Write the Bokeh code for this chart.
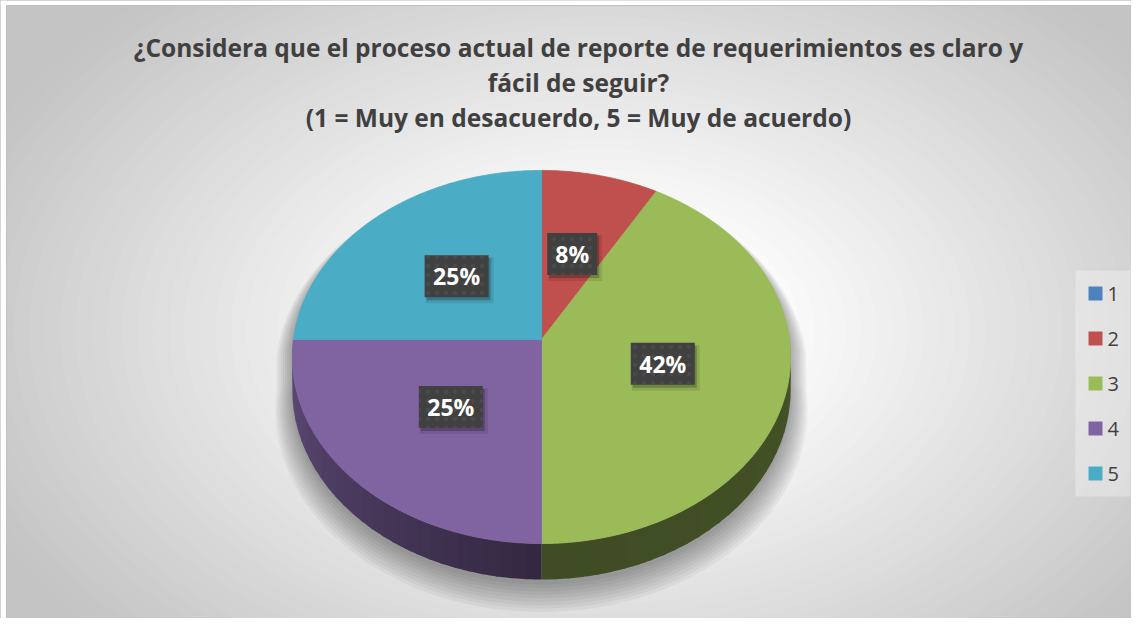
import numpy as np
from bokeh.plotting import figure
from bokeh.models import Range1d
from bokeh.core.properties import value
from bokeh.embed import file_html
from bokeh.resources import INLINE

# ---------------- data ----------------
TITLE_LINES = [
    "¿Considera que el proceso actual de reporte de requerimientos es claro y",
    "fácil de seguir?",
    "(1 = Muy en desacuerdo, 5 = Muy de acuerdo)",
]
CATEGORIES = ["1", "2", "3", "4", "5"]
COUNTS = [0, 1, 5, 3, 3]
COLORS = ["#4F81BD", "#C0504D", "#9BBB59", "#8064A2", "#4BACC6"]

# ---------------- geometry / style ----------------
W, H = 1131, 618
CX, CY = 541.0, 339.0        # pie centre (px)
RX, RY = 248.0, 184.9        # radii of top face
K = 0.0938                   # perspective strength
DEPTH = 32.6                 # pie thickness
FONT = "Open Sans"
TEXT_COLOR = "#404040"

p = figure(width=W, height=H, x_range=Range1d(0, W), y_range=Range1d(H, 0),
           output_backend="svg", toolbar_location=None, min_border=0,
           x_axis_location=None, y_axis_location=None)
p.grid.visible = False
p.outline_line_color = None
p.background_fill_color = "#ffffff"
p.border_fill_color = "#ffffff"

# ---------------- chart area with radial gradient ----------------
AX0, AY0, AX1, AY1 = 6, 5, 1139, 623
p.quad(left=[AX0], right=[AX1], top=[AY0], bottom=[AY1], fill_color="#c6c6c6", line_color=None)
BGX, BGY, BRX, BRY = 600.0, 330.0, 640.0, 420.0
ts = np.linspace(1.45, 0.02, 60)
def bg_level(t):
    if t <= 0.3:
        return 251.0
    return max(196.0, 251.0 - 53.0 * (t - 0.3) / 0.75)
bg_cols = ["#%02x%02x%02x" % ((int(bg_level(t)),) * 3) for t in ts]
p.ellipse(x=[BGX] * len(ts), y=[BGY] * len(ts), width=list(2 * BRX * ts), height=list(2 * BRY * ts),
          fill_color=bg_cols, line_color=None)
# mask outside chart area (top strip, left strip), then border
p.quad(left=[0, 0], right=[W, AX0], top=[0, 0], bottom=[AY0, H],
       fill_color="#ffffff", line_color=None)
p.quad(left=[AX0], right=[AX1 + 2], top=[AY0], bottom=[AY1], fill_color=None,
       line_color="#c0c0c0", line_width=1)

# ---------------- projection ----------------
def proj(theta_deg, r=1.0, drop=0.0):
    th = np.radians(theta_deg)
    u = r * np.sin(th)
    v = -r * np.cos(th)
    s = 1.0 / (1.0 - K * v)
    return CX + RX * u * s, CY + RY * v * s + drop * s

total = float(sum(COUNTS))
fracs = [c / total for c in COUNTS]
starts = np.concatenate([[0.0], np.cumsum(fracs)[:-1]]) * 360.0
ends = np.cumsum(fracs) * 360.0

# ---------------- shadow ----------------
def silhouette(scale=1.0, dx=0.0, dy=0.0):
    a1 = np.linspace(-90, 90, 120)
    xt, yt = proj(a1)
    a2 = np.linspace(90, 270, 120)
    xb, yb = proj(a2, drop=DEPTH)
    xs = np.concatenate([xt, xb])
    ys = np.concatenate([yt, yb])
    xs = CX + (xs - CX) * scale + dx
    ys = CY + (ys - CY) * scale + dy
    return list(xs), list(ys)

sh_xs, sh_ys = [], []
for i in range(9):
    sx, sy = silhouette(scale=1.0 + 0.0085 * i, dy=5 + 1.4 * i)
    sh_xs.append(sx)
    sh_ys.append(sy)
p.patches(sh_xs[::-1], sh_ys[::-1], fill_color="#000000", fill_alpha=0.045, line_color=None)

# ---------------- sides ----------------
def darken(hexc, f):
    hexc = hexc.lstrip("#")
    r, g, b = (int(hexc[i:i + 2], 16) for i in (0, 2, 4))
    return "#%02x%02x%02x" % (int(r * f), int(g * f), int(b * f))

def side_factor(theta):
    if theta <= 180:
        return 0.41 + 0.03 * (180 - theta) / 90.0
    return 0.40 + 0.36 * (theta - 180) / 90.0

side_xs, side_ys, side_cols = [], [], []
for i, (a, b) in enumerate(zip(starts, ends)):
    lo, hi = max(a, 90.0), min(b, 270.0)
    if hi <= lo:
        continue
    nstrip = max(2, int((hi - lo) / 3))
    edges = np.linspace(lo, hi, nstrip + 1)
    for j, (e0, e1) in enumerate(zip(edges[:-1], edges[1:])):
        ang = np.linspace(e0, min(e1 + (0.6 if j < nstrip - 1 else 0), hi), 6)
        xt, yt = proj(ang)
        xb, yb = proj(ang[::-1], drop=DEPTH)
        side_xs.append(list(np.concatenate([xt, xb])))
        side_ys.append(list(np.concatenate([yt, yb])))
        side_cols.append(darken(COLORS[i], side_factor((e0 + e1) / 2)))
p.patches(side_xs, side_ys, fill_color=side_cols, line_color=None)

# ---------------- top faces ----------------
top_xs, top_ys, top_cols = [], [], []
for i, (a, b) in enumerate(zip(starts, ends)):
    if b - a <= 0:
        continue
    ang = np.linspace(a, b, max(8, int((b - a) * 1.5)))
    xt, yt = proj(ang)
    top_xs.append([CX] + list(xt))
    top_ys.append([CY] + list(yt))
    top_cols.append(COLORS[i])
p.patches(top_xs, top_ys, fill_color=top_cols, line_color=top_cols, line_width=0.8)

# ---------------- data labels ----------------
lab_x, lab_y, lab_t, lab_w = [], [], [], []
for i, (a, b) in enumerate(zip(starts, ends)):
    if COUNTS[i] == 0:
        continue
    mx, my = proj((a + b) / 2, r=0.5)
    txt = "%d%%" % round(100 * COUNTS[i] / total)
    lab_x.append(float(mx)); lab_y.append(float(my)); lab_t.append(txt)
    lab_w.append(14 * len(txt) + 22)
p.rect(x=[x + 3 for x in lab_x], y=[y + 4 for y in lab_y], width=[w + 4 for w in lab_w], height=46,
       fill_color="#000000", fill_alpha=0.10, line_color=None)
p.rect(x=[x + 2 for x in lab_x], y=[y + 3 for y in lab_y], width=[w for w in lab_w], height=42,
       fill_color="#000000", fill_alpha=0.22, line_color=None)
p.rect(x=lab_x, y=lab_y, width=lab_w, height=42, fill_color="#404040", line_color=None,
       hatch_pattern="dot", hatch_color="#555555", hatch_scale=9, hatch_weight=0.8, hatch_alpha=0.45)
p.text(x=lab_x, y=lab_y, text=lab_t, text_color="#ffffff", text_font=value(FONT),
       text_font_style="bold", text_font_size="23px", text_align="center", text_baseline="middle")

# ---------------- title ----------------
p.text(x=[578] * 3, y=[47, 82, 117], text=TITLE_LINES, text_color=TEXT_COLOR,
       text_font=value(FONT), text_font_style="bold", text_font_size="24.5px",
       text_align="center", text_baseline="middle")

# ---------------- legend ----------------
p.rect(x=[1102.5], y=[383], width=55, height=226, fill_color="#ffffff", fill_alpha=0.3,
       line_color=None)
leg_y = [293 + 45 * i for i in range(len(CATEGORIES))]
p.rect(x=[1095] * len(CATEGORIES), y=leg_y, width=14, height=14, fill_color=COLORS, line_color=None)
p.text(x=[1107] * len(CATEGORIES), y=leg_y, text=CATEGORIES, text_color=TEXT_COLOR,
       text_font=value(FONT), text_font_size="20px", text_align="left", text_baseline="middle")

open("out.html", "w").write(file_html(p, INLINE))
